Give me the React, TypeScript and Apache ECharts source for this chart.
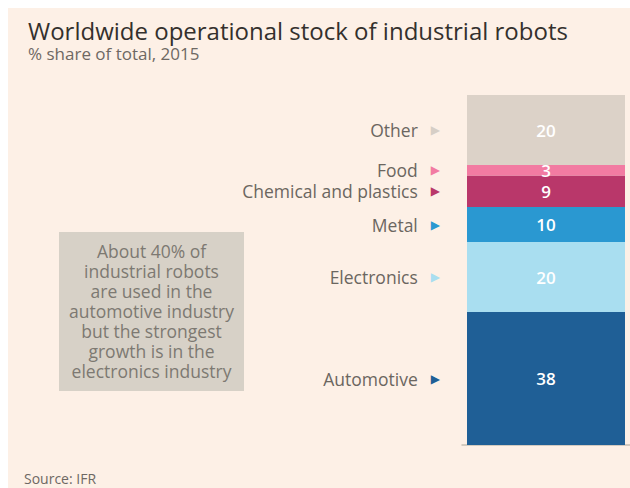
import React, { useEffect, useRef } from "react";
import * as echarts from "echarts";

const categories = ["Automotive", "Electronics", "Metal", "Chemical and plastics", "Food", "Other"];
const values = [38, 20, 10, 9, 3, 20];
const colors = ["#1f5f96", "#a9def0", "#2a98d1", "#b9376a", "#f27ba2", "#dcd2c8"];
const arrowColors = ["#1f5f96", "#a9def0", "#2a98d1", "#b9376a", "#f27ba2", "#d6cec6"];
const year = "2015";
const noteLines = [
  "About 40% of",
  "industrial robots",
  "are used in the",
  "automotive industry",
  "but the strongest",
  "growth is in the",
  "electronics industry",
];

const FONT = "'Open Sans', 'Noto Sans', sans-serif";

export default function App() {
  const ref = useRef<HTMLDivElement>(null);
  useEffect(() => {
    if (!ref.current) return;
    document.documentElement.style.overflow = "hidden";
    document.body.style.overflow = "hidden";
    const chart = echarts.init(ref.current, null, { renderer: "svg" });
    const mids: number[] = [];
    let acc = 0;
    values.forEach((v) => {
      mids.push(acc + v / 2);
      acc += v;
    });
    const rich: any = {
      t: { color: "#6b6660", fontSize: 17.5, fontFamily: FONT, padding: [0, 13, 0, 0] },
    };
    arrowColors.forEach((c, i) => {
      rich["a" + i] = { color: c, fontSize: 12, fontFamily: "DejaVu Sans" };
    });
    const option: any = {
      animation: false,
      backgroundColor: "#fdf0e6",
      title: {
        text: "Worldwide operational stock of industrial robots",
        subtext: "% share of total, " + year,
        left: 15,
        top: 5,
        itemGap: 3,
        textStyle: { fontFamily: FONT, fontSize: 24, fontWeight: "normal", color: "#34302d" },
        subtextStyle: { fontFamily: FONT, fontSize: 17, color: "#6e6863" },
      },
      grid: { left: 454, right: -10, top: 87, bottom: 43, containLabel: false },
      xAxis: {
        type: "category",
        data: [year],
        axisLine: { show: true, lineStyle: { color: "#c5beb3", width: 1.5 } },
        axisTick: { show: false },
        axisLabel: { show: false },
      },
      yAxis: {
        type: "value",
        min: 0,
        max: 100,
        splitLine: { show: false },
        axisLine: { show: false },
        axisTick: { show: false },
        axisLabel: {
          customValues: mids,
          margin: 22,
          rich,
          formatter: (v: number) => {
            const i = mids.findIndex((m) => Math.abs(m - v) < 1e-6);
            if (i < 0) return "";
            return "{t|" + categories[i] + "}{a" + i + "|▶}";
          },
        },
      },
      series: categories.map((name, i) => ({
        type: "bar",
        name,
        stack: "total",
        barWidth: 158,
        data: [values[i]],
        itemStyle: { color: colors[i] },
        label: {
          show: true,
          position: "inside",
          color: "#ffffff",
          fontFamily: FONT,
          fontSize: 17,
          fontWeight: 600,
        },
      })),
      graphic: [
        {
          type: "group",
          left: 51,
          top: 224,
          children: [
            {
              type: "rect",
              shape: { x: 0, y: 0, width: 185, height: 159 },
              style: { fill: "#d7d1c7" },
            },
            {
              type: "text",
              x: 92.5,
              y: 79,
              style: {
                text: noteLines.join("\n"),
                fill: "#7d7972",
                fontFamily: FONT,
                fontSize: 17.5,
                lineHeight: 20,
                align: "center",
                verticalAlign: "middle",
              },
            },
          ],
        },
        {
          type: "text",
          left: 16,
          top: 463,
          style: { text: "Source: IFR", fill: "#6e6863", fontFamily: FONT, fontSize: 14 },
        },
      ],
    };
    chart.setOption(option);
    return () => chart.dispose();
  }, []);
  return <div ref={ref} style={{ position: "fixed", left: 8, top: 8, width: 622, height: 480 }} />;
}
